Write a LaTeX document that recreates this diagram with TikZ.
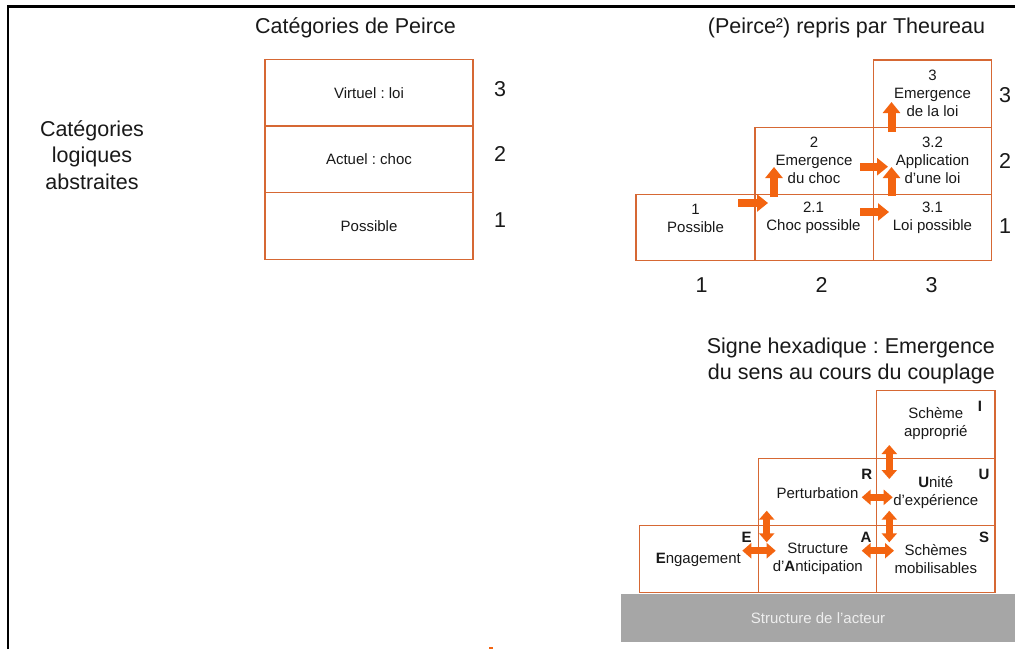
\documentclass[tikz,border=0pt]{standalone}
\usepackage{fontspec}
\setmainfont{Liberation Sans}
\usetikzlibrary{arrows.meta}
\definecolor{cellline}{RGB}{214,104,52}
\definecolor{arrowor}{RGB}{243,100,16}
\definecolor{barg}{RGB}{166,166,166}
\definecolor{bartext}{RGB}{238,238,238}
\definecolor{txtc}{RGB}{25,25,25}

\newcommand\cellat[5]{\node[cellbox, minimum width=#4, minimum height=#5] (#1) at (#2,#3) {};}

\begin{document}
\frenchspacing
\begin{tikzpicture}[x=1pt,y=-1pt,
  cellbox/.style={draw=cellline, line width=1.4pt, inner sep=0pt, outer sep=0pt, anchor=north west, fill=white},
  txt/.style={font=\fontsize{15}{18}\selectfont, align=center, inner sep=0pt, text=txtc},
  lbl/.style={font=\bfseries\fontsize{15}{17}\selectfont, inner sep=0pt, text=txtc},
  big/.style={font=\fontsize{21.5}{26.5}\selectfont, align=center, inner sep=0pt, text=txtc},
  blockarrow/.style={draw=arrowor, line width=8pt, -{Triangle[length=11pt,width=17pt]}, arrowor},
  dblarrow/.style={draw=arrowor, line width=6.5pt, {Triangle[length=9pt,width=15pt]}-{Triangle[length=9pt,width=15pt]}, arrowor}
]
\useasboundingbox (0,0) rectangle (1015,649);
\fill[white] (0,0) rectangle (1015,649);

% frame
\draw[line width=2.6pt, black] (7.8,649) -- (7.8,6.2) -- (1015,6.2);

% ---------- left: Catégories de Peirce ----------
\node[big] (t1) at (355.5,28) {Catégories de Peirce};
\node[big] (cla) at (92,155) {Catégories\\logiques\\abstraites};
\node[cellbox, minimum width=208, minimum height=66.7, txt] (p3) at (265,59.3) {Virtuel : loi};
\node[cellbox, minimum width=208, minimum height=66.3, txt] (p2) at (265,126) {Actuel : choc};
\node[cellbox, minimum width=208, minimum height=67, txt] (p1) at (265,192.3) {Possible};
\node[big] (n3) at (500,89) {3};
\node[big] (n2) at (500,154) {2};
\node[big] (n1) at (500,220.5) {1};

% ---------- right top: (Peirce²) repris par Theureau ----------
\node[big] (t2) at (846.5,28) {(Peirce²) repris par Theureau};
\cellat{c11}{636}{194.3}{119}{66.4}
\cellat{c21}{755}{194.3}{118.3}{66.4}
\cellat{c22}{755}{127.3}{118.3}{67}
\cellat{c31}{873.3}{194.3}{118.4}{66.4}
\cellat{c32}{873.3}{127.3}{118.4}{67}
\cellat{c33}{873.3}{60}{118.4}{67.3}

\node[txt] (x11) at (695.5,218) {1\\Possible};
\node[txt] (x21) at (813.5,218) {2.1\\Choc possible};
\node[txt] (x22) at (814,160.5) {2\\Emergence\\du choc};
\node[txt] (x31) at (932.5,218) {3.1\\Loi possible};
\node[txt] (x32) at (932.5,160.5) {3.2\\Application\\d’une loi};
\node[txt] (x33) at (932.5,93) {3\\Emergence\\de la loi};

\node[big] (r3) at (1005,95) {3};
\node[big] (r2) at (1005,160.5) {2};
\node[big] (r1) at (1005,226.5) {1};
\node[big] (k1) at (701.7,285) {1};
\node[big] (k2) at (821.7,285) {2};
\node[big] (k3) at (931.7,285) {3};

% block arrows
\coordinate (a1s) at (738,203);   \coordinate (a1e) at (768,203);
\coordinate (a2s) at (774,197);   \coordinate (a2e) at (774,167);
\coordinate (a5s) at (860,212);   \coordinate (a5e) at (889,212);
\coordinate (a4s) at (891.5,196); \coordinate (a4e) at (891.5,167);
\coordinate (a3s) at (860,166.7); \coordinate (a3e) at (888,166.7);
\coordinate (a6s) at (891.5,132); \coordinate (a6e) at (891.5,102);
\draw[blockarrow] (a1s) -- (a1e);
\draw[blockarrow] (a2s) -- (a2e);
\draw[blockarrow] (a5s) -- (a5e);
\draw[blockarrow] (a4s) -- (a4e);
\draw[blockarrow] (a3s) -- (a3e);
\draw[blockarrow] (a6s) -- (a6e);

% ---------- right bottom: Signe hexadique ----------
\node[big, align=right, anchor=east] (t3) at (995,361) {Signe hexadique : Emergence\\du sens au cours du couplage};

\fill[barg] (620.7,594) rectangle (1015,642);
\node[txt, text=bartext] (bar) at (818,618) {Structure de l’acteur};

\cellat{hI}{876.7}{390.7}{118.3}{67.6}
\cellat{hR}{758.3}{458.3}{118.4}{67.4}
\cellat{hU}{876.7}{458.3}{118.3}{67.4}
\cellat{hE}{639.3}{525.7}{119}{66.6}
\cellat{hA}{758.3}{525.7}{118.4}{66.6}
\cellat{hS}{876.7}{525.7}{118.3}{66.6}

\node[txt] (xI) at (935.8,424) {Schème\\approprié};
\node[lbl] (lI) at (980,406.7) {I};
\node[txt] (xR) at (817.5,493.3) {Perturbation};
\node[lbl] (lR) at (866.7,474) {R};
\node[txt] (xU) at (935.8,493) {\textbf{U}nité\\d’expérience};
\node[lbl] (lU) at (984,474) {U};
\node[txt] (xE) at (698.3,560) {\textbf{E}ngagement};
\node[lbl] (lE) at (746.7,537.3) {E};
\node[txt] (xA) at (817.8,559) {Structure\\d’\textbf{A}nticipation};
\node[lbl] (lA) at (866,537.3) {A};
\node[txt] (xS) at (935.8,559) {Schèmes\\mobilisables};
\node[lbl] (lS) at (984,537.3) {S};

% double arrows
\coordinate (d1s) at (889.3,445);   \coordinate (d1e) at (889.3,479);
\coordinate (d2s) at (861.7,497.3); \coordinate (d2e) at (892.7,497.3);
\coordinate (d3s) at (889.3,510.7); \coordinate (d3e) at (889.3,542.3);
\coordinate (d4s) at (766.7,510.7); \coordinate (d4e) at (766.7,542.3);
\coordinate (d5s) at (742.3,550.7); \coordinate (d5e) at (775.7,550.7);
\coordinate (d6s) at (861.7,550.7); \coordinate (d6e) at (894,550.7);
\draw[dblarrow] (d1s) -- (d1e);
\draw[dblarrow] (d2s) -- (d2e);
\draw[dblarrow] (d3s) -- (d3e);
\draw[dblarrow] (d4s) -- (d4e);
\draw[dblarrow] (d5s) -- (d5e);
\draw[dblarrow] (d6s) -- (d6e);

% small cropped fragment at bottom edge
\fill[arrowor] (489,646.5) rectangle (493,649);
\end{tikzpicture}
\end{document}
